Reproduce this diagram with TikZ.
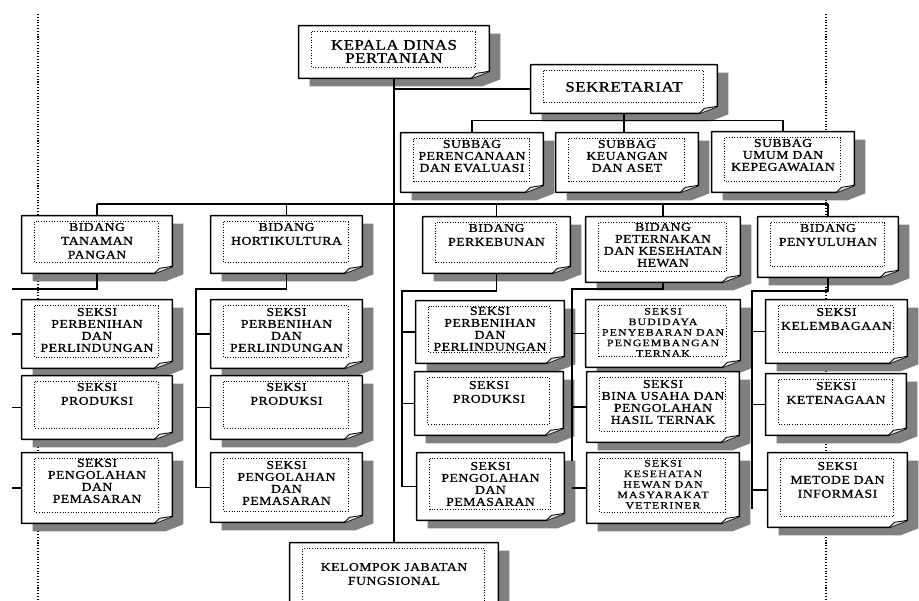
\documentclass[tikz,border=0pt]{standalone}
\usepackage{fontspec}
\setmainfont{Liberation Serif}
\newfontfamily\orgfont[FakeStretch=1.15, LetterSpace=4, FakeBold=1]{Liberation Serif}
\newfontfamily\orgfontwide[FakeStretch=1.2, LetterSpace=12, FakeBold=0.8]{Liberation Serif}
\usetikzlibrary{calc,fit,positioning}
\pgfdeclarelayer{margin}
\pgfdeclarelayer{shade}
\pgfdeclarelayer{links}
\pgfdeclarelayer{paper}
\pgfsetlayers{margin,shade,links,paper,main}

\begin{document}
\begin{tikzpicture}[x=0.02cm, y=-0.02cm,
    headtext/.style={font=\orgfont\fontsize{8.3}{7.5}\selectfont, align=center, inner sep=0pt},
    bidangtext/.style={font=\orgfont\fontsize{6.8}{7.9}\selectfont, align=center, inner sep=0pt},
    unittext/.style={font=\orgfont\fontsize{6.8}{6.8}\selectfont, align=center, inner sep=0pt},
    smalltext/.style={font=\orgfontwide\fontsize{5.6}{6}\selectfont, align=center, inner sep=0pt},
    link/.style={line width=0.6pt}]

    % page and margins
    \useasboundingbox (0,0) rectangle (919,601);
    \begin{pgfonlayer}{margin}
    \fill[white] (0,0) rectangle (919,601);
    \draw[densely dotted, line width=0.6pt] (38,14) -- (38,601);
    \draw[densely dotted, line width=0.6pt] (826,14) -- (826,601);
    \end{pgfonlayer}

    % boxes: name/left/top/right/bottom/gap/style/text
    \foreach \nm/\xa/\ya/\xb/\yb/\gp/\st/\txt in {
        kepala/299/26/489/78/8/headtext/{KEPALA DINAS\\PERTANIAN},
        sekretariat/531/65/717/113/11/headtext/{SEKRETARIAT},
        perencanaan/401/133/543/192/1/unittext/{SUBBAG\\PERENCANAAN\\DAN EVALUASI},
        keuangan/556/133/698/192/1/unittext/{SUBBAG\\KEUANGAN\\DAN ASET},
        umum/712/132/854/192/1/unittext/{SUBBAG\\UMUM DAN\\KEPEGAWAIAN},
        tanaman/22/216/172/273/1/bidangtext/{BIDANG\\TANAMAN\\PANGAN},
        horti/211/216/362/273/1/bidangtext/{BIDANG\\HORTIKULTURA},
        perkebunan/423/217/570/273/1/bidangtext/{BIDANG\\PERKEBUNAN},
        peternakan/586/217/740/282/0/unittext/{BIDANG\\PETERNAKAN\\DAN KESEHATAN\\HEWAN},
        penyuluhan/758/217/898/277/1/bidangtext/{BIDANG\\PENYULUHAN},
        tp1/22/300/172/368/2/unittext/{SEKSI\\PERBENIHAN\\DAN\\PERLINDUNGAN},
        tp2/22/376/172/439/1/bidangtext/{SEKSI\\PRODUKSI},
        tp3/22/453/172/523/0/unittext/{SEKSI\\PENGOLAHAN\\DAN\\PEMASARAN},
        ho1/211/300/362/368/2/unittext/{SEKSI\\PERBENIHAN\\DAN\\PERLINDUNGAN},
        ho2/211/376/362/439/1/bidangtext/{SEKSI\\PRODUKSI},
        ho3/211/453/362/522/2/unittext/{SEKSI\\PENGOLAHAN\\DAN\\PEMASARAN},
        pk1/416/301/564/363/0/unittext/{SEKSI\\PERBENIHAN\\DAN\\PERLINDUNGAN},
        pk2/415/372/563/435/3/bidangtext/{SEKSI\\PRODUKSI},
        pk3/417/453/564/520/3/unittext/{SEKSI\\PENGOLAHAN\\DAN\\PEMASARAN},
        pt1/586/300/740/367/2/smalltext/{SEKSI\\BUDIDAYA\\PENYEBARAN DAN\\PENGEMBANGAN\\TERNAK},
        pt2/587/372/739/442/2/unittext/{SEKSI\\BINA USAHA DAN\\PENGOLAHAN\\HASIL TERNAK},
        pt3/587/453/739/523/1/smalltext/{SEKSI\\KESEHATAN\\HEWAN DAN\\MASYARAKAT\\VETERINER},
        py1/766/300/907/363/2/bidangtext/{SEKSI\\KELEMBAGAAN},
        py2/766/374/906/435/2/bidangtext/{SEKSI\\KETENAGAAN},
        py3/768/453/907/527/3/bidangtext/{SEKSI\\METODE DAN\\INFORMASI},
        kelompok/290/543/498/612/14/bidangtext/{KELOMPOK JABATAN\\FUNGSIONAL}} {
        \path (\xa,\ya) coordinate (\nm-a) (\xb,\yb) coordinate (\nm-b);
        \node[fit=(\nm-a)(\nm-b), inner sep=0pt] (\nm) {};
        \node[\st, anchor=north] (\nm-text) at ($(\nm.north)+(0,6+\gp)$) {\txt};
        \begin{pgfonlayer}{shade}
        \fill[gray] ($(\nm.north west)+(11,8)$) -- ($(\nm.north east)+(11,8)$) -- ($(\nm.south east)+(11,1)$)
            -- ($(\nm.south east)+(-7,8)$) -- ($(\nm.south west)+(11,8)$) -- cycle;
        \end{pgfonlayer}
        \begin{pgfonlayer}{paper}
        \filldraw[fill=white, line width=0.85pt, line join=round] (\nm.north west) -- (\nm.north east)
            -- ($(\nm.south east)+(0,-7)$) -- ($(\nm.south east)+(-18,0)$) -- (\nm.south west) -- cycle;
        \filldraw[fill=gray!20, line width=0.5pt] ($(\nm.south east)+(-18,0)$) .. controls ($(\nm.south east)+(-15,-3)$) .. ($(\nm.south east)+(-13,-5)$) -- ($(\nm.south east)+(0,-7)$);
        \draw[densely dotted, line width=0.5pt] ($(\nm.north west)+(13,6)$) rectangle ($(\nm.south east)+(-14,-11)$);
        \end{pgfonlayer}
    }

    \begin{pgfonlayer}{links}
    % head and secretariat
    \draw[link] (kepala.south) -- (kelompok.north);
    \draw[link] (kepala.south |- sekretariat.west) -- (sekretariat.west);
    \draw[link] (sekretariat.south) -- (sekretariat.south |- keuangan.north);
    \draw[link] (perencanaan.north) -- ++(0,-12) -| (umum.north);

    % bidang bar
    \coordinate (bidangbar) at (0,204);
    \draw[link] (tanaman.north |- bidangbar) -- (penyuluhan.north |- bidangbar);
    \foreach \m in {tanaman,horti,perkebunan,peternakan,penyuluhan}
        \draw[link] (\m.north) -- (\m.north |- bidangbar);

    % seksi rails
    \coordinate (rail1) at (12,289);
    \coordinate (rail2) at (196,289);
    \coordinate (rail3) at (402,291);
    \coordinate (rail4) at (572,289);
    \coordinate (rail4end) at (572,461);
    \coordinate (rail5) at (752,291);
    \coordinate (rail5end) at (752,509);

    \draw[link] (tanaman.south) |- (rail1);
    \foreach \m in {tp1,tp2,tp3}
        \draw[link] (\m.west -| rail1) -- (\m.west);

    \draw[link] (horti.south) |- (rail2) |- (ho3.west);
    \foreach \m in {ho1,ho2}
        \draw[link] (\m.west -| rail2) -- (\m.west);

    \draw[link] (perkebunan.south) |- (rail3) |- (pk3.west);
    \foreach \m in {pk1,pk2}
        \draw[link] (\m.west -| rail3) -- (\m.west);

    \draw[link] (peternakan.south) |- (rail4) -- (rail4end);
    \foreach \m in {pt1,pt2,pt3}
        \draw[link] (\m.west -| rail4) -- (\m.west);

    \draw[link] (penyuluhan.south) |- (rail5) -- (rail5end);
    \foreach \m in {py1,py2,py3}
        \draw[link] (\m.west -| rail5) -- (\m.west);
    \end{pgfonlayer}

\end{tikzpicture}
\end{document}
